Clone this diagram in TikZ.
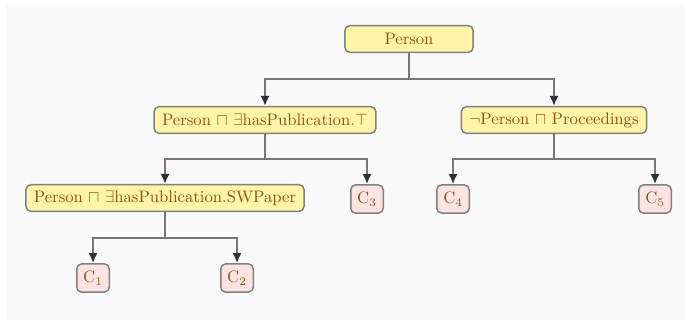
\documentclass[tikz,border=0pt]{standalone}
\usepackage{amsmath}
\usepackage{amssymb}
\usetikzlibrary{shapes, arrows.meta, positioning, calc}
\definecolor{paper}{RGB}{249,249,249}
\definecolor{concept}{RGB}{255,244,168}
\definecolor{rose}{RGB}{250,228,226}
\definecolor{rim}{RGB}{128,128,128}
\definecolor{ink}{RGB}{140,82,22}
\definecolor{wire}{RGB}{118,118,118}
\definecolor{tip}{RGB}{40,50,55}
\tikzstyle{box}  = [draw=rim, line width=0.9pt, fill=concept, rounded corners=3pt, text=ink, minimum height=16pt, inner xsep=4.8pt, inner ysep=0pt]
\tikzstyle{leaf} = [box, fill=rose, minimum width=19.5pt, minimum height=17pt, inner xsep=0pt]
\tikzstyle{fork} = [draw=wire, line width=1.2pt, -{Latex[color=tip, length=6pt, width=5.5pt]},
                    to path={(\tikztostart.south) |- ($(\tikztostart)!0.5!(\tikztotarget)$) -| (\tikztotarget.north)}]

\begin{document}
\begin{tikzpicture}[x=0.6pt, y=-0.6pt]

% frame
\useasboundingbox (0,0) rectangle (685,320);
\fill [paper] (6,5) rectangle (685,320);

% nodes
\node [box, minimum width=77pt] at ( 409, 39 ) (P)  {Person};
\node [box]                     at ( 265, 120) (PH) {Person $\sqcap$ $\exists$hasPublication.$\top$};
\node [box]                     at ( 554, 120) (NP) {$\neg$Person $\sqcap$ Proceedings};
\node [box]                     at ( 165, 198) (PS) {Person $\sqcap$ $\exists$hasPublication.SWPaper};
\node [leaf]                    at ( 367, 199) (C3) {C$_3$};
\node [leaf]                    at ( 453, 199) (C4) {C$_4$};
\node [leaf]                    at ( 655, 199) (C5) {C$_5$};
\node [leaf]                    at (  93, 278) (C1) {C$_1$};
\node [leaf]                    at ( 237, 278) (C2) {C$_2$};

% edges
\path [fork]
  (P)  edge (PH)
  (P)  edge (NP)
  (PH) edge (PS)
  (PH) edge (C3)
  (NP) edge (C4)
  (NP) edge (C5)
  (PS) edge (C1)
  (PS) edge (C2);

\end{tikzpicture}
\end{document}
